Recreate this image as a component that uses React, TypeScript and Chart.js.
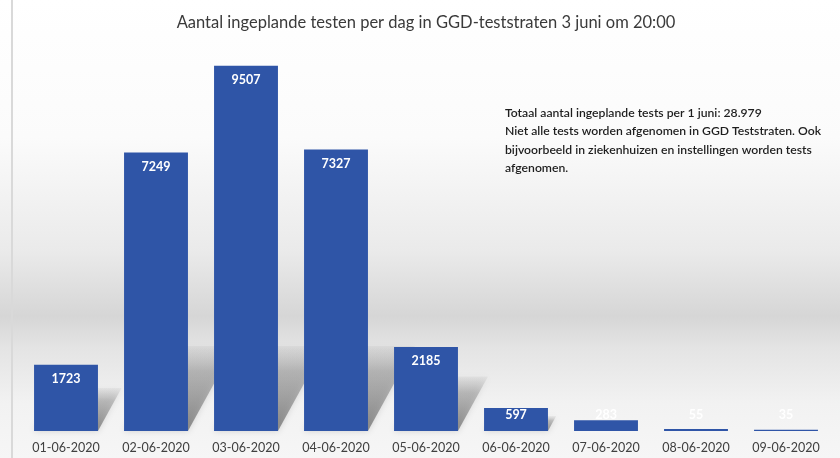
import React, { useEffect, useRef } from "react";
import { Chart, registerables } from "chart.js";

Chart.register(...registerables);

const categories = [
  "01-06-2020",
  "02-06-2020",
  "03-06-2020",
  "04-06-2020",
  "05-06-2020",
  "06-06-2020",
  "07-06-2020",
  "08-06-2020",
  "09-06-2020",
];
const plannedTests = [1723, 7249, 9507, 7327, 2185, 597, 283, 55, 35];
const titleText = "Aantal ingeplande testen per dag in GGD-teststraten 3 juni om 20:00";
const noteLines = [
  "Totaal aantal ingeplande tests per 1 juni: 28.979",
  "Niet alle tests worden afgenomen in GGD Teststraten. Ook",
  "bijvoorbeeld in ziekenhuizen en instellingen worden tests",
  "afgenomen.",
];

const backgroundPlugin = {
  id: "bgGradient",
  beforeDraw(chart: any) {
    const { ctx, width, height } = chart;
    ctx.save();
    const g = ctx.createLinearGradient(0, 0, 0, height);
    g.addColorStop(0, "#ffffff");
    g.addColorStop(0.3, "#fbfbfb");
    g.addColorStop(0.55, "#eaeaea");
    g.addColorStop(0.69, "#d6d6d6");
    g.addColorStop(0.76, "#e4e4e4");
    g.addColorStop(0.88, "#f2f2f2");
    g.addColorStop(1, "#f6f6f6");
    ctx.fillStyle = g;
    ctx.fillRect(0, 0, width, height);
    ctx.strokeStyle = "#d9d9d9";
    ctx.lineWidth = 2;
    ctx.beginPath();
    ctx.moveTo(12, 0);
    ctx.lineTo(12, height);
    ctx.stroke();
    ctx.restore();
  },
};

const shadowPlugin = {
  id: "barShadows",
  beforeDatasetsDraw(chart: any) {
    const { ctx } = chart;
    const meta = chart.getDatasetMeta(0);
    const yScale = chart.scales.y;
    const base = yScale.getPixelForValue(0);
    ctx.save();
    meta.data.forEach((bar: any, i: number) => {
      const x = bar.x;
      const y = yScale.getPixelForValue(plannedTests[i]);
      const width = bar.width;
      const h = base - y;
      if (h < 20) return;
      const left = x - width / 2;
      const right = x + width / 2;
      const sh = Math.min(85, h * 0.65);
      const dx = sh * 0.55;
      const g = ctx.createLinearGradient(0, base, 0, base - sh);
      g.addColorStop(0, "rgba(80,80,80,0.6)");
      g.addColorStop(0.7, "rgba(110,110,110,0.35)");
      g.addColorStop(1, "rgba(150,150,150,0.1)");
      ctx.fillStyle = g;
      ctx.shadowColor = "rgba(120,120,120,0.5)";
      ctx.shadowBlur = 6;
      ctx.beginPath();
      ctx.moveTo(left, base);
      ctx.lineTo(right, base);
      ctx.lineTo(right + dx, base - sh);
      ctx.lineTo(left + dx, base - sh);
      ctx.closePath();
      ctx.fill();
    });
    ctx.restore();
  },
};

const labelPlugin = {
  id: "valueLabelsAndNote",
  afterDatasetsDraw(chart: any) {
    const { ctx } = chart;
    const meta = chart.getDatasetMeta(0);
    const yScale = chart.scales.y;
    const base = yScale.getPixelForValue(0);
    ctx.save();
    ctx.font = "bold 12.5px Lato";
    ctx.fillStyle = "#ffffff";
    ctx.textAlign = "center";
    ctx.textBaseline = "top";
    meta.data.forEach((bar: any, i: number) => {
      const y = yScale.getPixelForValue(plannedTests[i]);
      const top = Math.min(y + 8, base - 22);
      ctx.fillText(String(plannedTests[i]), bar.x, top);
    });
    ctx.font = "600 12.2px Lato";
    ctx.fillStyle = "#1e1e1e";
    ctx.textAlign = "left";
    ctx.textBaseline = "middle";
    noteLines.forEach((line, i) => {
      ctx.fillText(line, 505, 113 + i * 18.5);
    });
    ctx.restore();
  },
};

export default function App() {
  const canvasRef = useRef<HTMLCanvasElement | null>(null);

  useEffect(() => {
    if (!canvasRef.current) return;
    const chart = new Chart(canvasRef.current, {
      type: "bar",
      data: {
        labels: categories,
        datasets: [
          {
            label: "Ingeplande testen",
            data: plannedTests,
            backgroundColor: "#2f55a7",
            borderWidth: 0,
            barPercentage: 0.71,
            categoryPercentage: 1,
          },
        ],
      },
      options: {
        animation: false,
        responsive: false,
        devicePixelRatio: 1,
        layout: { padding: { left: 21, right: 9, top: 0, bottom: -6 } },
        plugins: {
          legend: { display: false },
          tooltip: { enabled: false },
          title: {
            display: true,
            text: titleText,
            color: "#3a3a3a",
            font: { family: "Lato", size: 16.5, weight: "normal" },
            padding: { top: 13, bottom: 14 },
          },
        },
        scales: {
          x: {
            grid: { display: false, drawTicks: false },
            border: { display: false },
            ticks: {
              color: "#404040",
              font: { family: "Lato", size: 12.5 },
              padding: 9,
              maxRotation: 0,
              autoSkip: false,
            },
          },
          y: {
            display: false,
            min: 0,
            max: 10000,
          },
        },
      },
      plugins: [backgroundPlugin, shadowPlugin, labelPlugin],
    });
    return () => chart.destroy();
  }, []);

  return (
    <div style={{ position: "fixed", left: 0, top: 0, width: 840, height: 458 }}>
      <canvas ref={canvasRef} width={840} height={458} style={{ display: "block" }} />
    </div>
  );
}
